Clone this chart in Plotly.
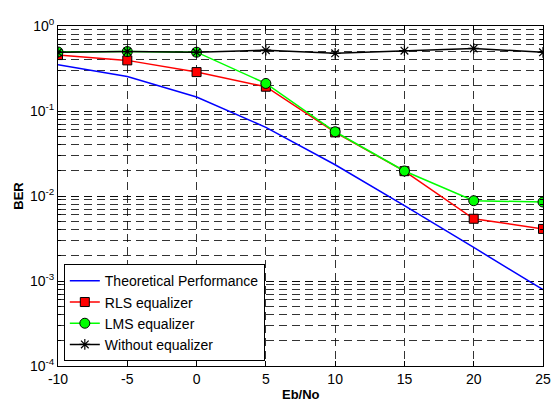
import plotly.graph_objects as go

ebno = [-10, -5, 0, 5, 10, 15, 20, 25]
theory = [0.349, 0.255, 0.146, 0.0642, 0.0233, 0.00772, 0.00248, 0.00079]
rls = [0.455, 0.394, 0.287, 0.193, 0.056, 0.0196, 0.0054, 0.0041]
lms = [0.495, 0.50, 0.492, 0.211, 0.057, 0.0197, 0.0088, 0.0085]
without = [0.49, 0.50, 0.49, 0.52, 0.477, 0.512, 0.545, 0.49]

x_ticks = [-10, -5, 0, 5, 10, 15, 20, 25]
x_ticktext = ["-10", "-5", "0", "5", "10", "15", "20", "25"]
y_ticks = [1e-4, 1e-3, 1e-2, 1e-1, 1]
y_ticktext = ["10<sup>-4</sup>", "10<sup>-3</sup>", "10<sup>-2</sup>", "10<sup>-1</sup>", "10<sup>0</sup>"]

fig = go.Figure()
fig.add_trace(go.Scatter(x=ebno, y=theory, mode="lines", name="Theoretical Performance",
                         line=dict(color="#0000ff", width=1.5)))
fig.add_trace(go.Scatter(x=ebno, y=rls, mode="lines+markers", name="RLS equalizer",
                         line=dict(color="#ff0000", width=1.5),
                         marker=dict(symbol="square", size=9, color="#ff0000",
                                     line=dict(color="black", width=1))))
fig.add_trace(go.Scatter(x=ebno, y=lms, mode="lines+markers", name="LMS equalizer",
                         line=dict(color="#00ff00", width=1.5),
                         marker=dict(symbol="circle", size=10, color="#00ff00",
                                     line=dict(color="black", width=1))))
fig.add_trace(go.Scatter(x=ebno, y=without, mode="lines+markers", name="Without equalizer",
                         line=dict(color="black", width=1.5),
                         marker=dict(symbol="asterisk-open", size=9, color="black",
                                     line=dict(color="black", width=1.2))))

gcol = "rgba(0,0,0,0.8)"
gdash = "8px,5px"
fig.update_xaxes(range=[-10, 25], tickvals=x_ticks, ticktext=x_ticktext, showline=True,
                 linecolor="black", linewidth=1, mirror="ticks", ticks="inside", ticklen=5,
                 tickcolor="black", zeroline=False, tickfont=dict(size=14),
                 ticklabeloverflow="allow",
                 showgrid=True, gridcolor=gcol, griddash=gdash, gridwidth=1)
fig.update_yaxes(type="log", range=[-4, 0], tickvals=y_ticks, ticktext=y_ticktext,
                 showline=True, linecolor="black", linewidth=1, mirror="ticks",
                 ticks="inside", ticklen=5, tickcolor="black", tickfont=dict(size=14),
                 ticklabeloverflow="allow",
                 showgrid=True, gridcolor=gcol, griddash=gdash, gridwidth=1,
                 minor=dict(showgrid=True, ticks="inside", ticklen=3, tickcolor="black",
                            gridcolor=gcol, griddash=gdash, dtick="D1"))
fig.update_layout(
    width=551, height=398,
    margin=dict(l=50, r=8, t=9, b=40),
    paper_bgcolor="white", plot_bgcolor="white",
    font=dict(family="Liberation Sans, Arial, sans-serif", color="black", size=14),
    showlegend=True,
    legend=dict(x=0.012, y=0.014, xanchor="left", yanchor="bottom",
                bgcolor="white", bordercolor="black", borderwidth=1,
                font=dict(size=14), tracegroupgap=0, itemwidth=30,
                entrywidth=215, entrywidthmode="pixels"),
    annotations=[
        dict(text="<b>Eb/No</b>", xref="paper", yref="paper", x=0.5, y=-0.083,
             xanchor="center", yanchor="middle", showarrow=False, font=dict(size=13)),
        dict(text="<b>BER</b>", xref="paper", yref="paper", x=-0.083, y=0.5,
             xanchor="center", yanchor="middle", textangle=-90, showarrow=False,
             font=dict(size=13)),
    ],
)
fig.write_html("out.html")
